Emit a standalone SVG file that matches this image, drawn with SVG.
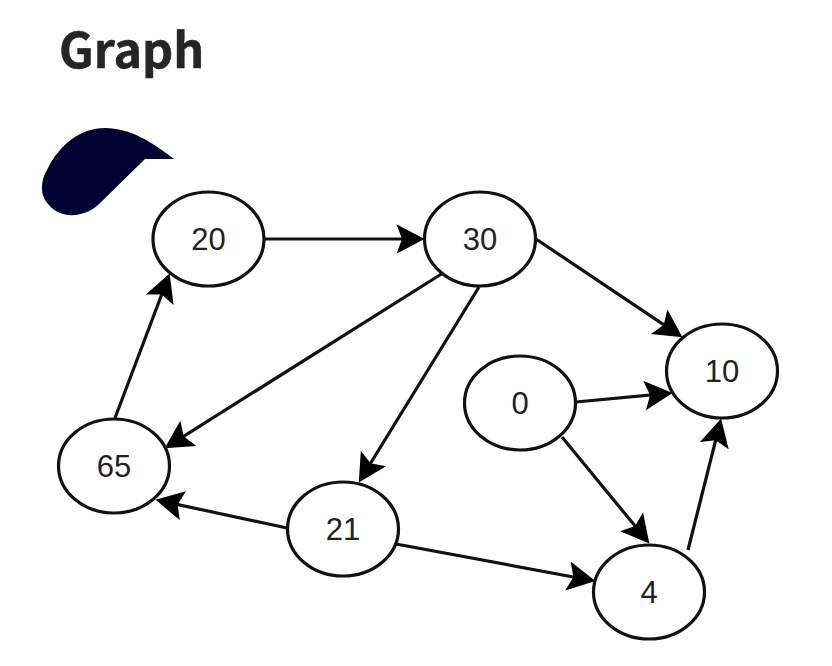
<svg xmlns="http://www.w3.org/2000/svg" width="832" height="666" viewBox="0 0 832 666">
<style>
.t{font-family:"Noto Sans CJK SC","Noto Sans",sans-serif;font-weight:700;font-size:48.500px;fill:#252525;stroke:#252525;stroke-width:.5}
.n ellipse{fill:#fff;stroke:#111;stroke-width:3.200}
.n text{font-family:"Liberation Sans",Arial,sans-serif;font-size:31px;fill:#222;text-anchor:middle}
#connectors line{stroke:#111;stroke-width:3.200;marker-end:url(#ah)}
</style>
<defs><marker id="ah" markerUnits="userSpaceOnUse" markerWidth="31" markerHeight="31" viewBox="-1 -15.500 31 31" refX="20" refY="0" orient="auto"><path d="M-.5,-14.800 L27.500,0 L-.5,14.800 L5,0 Z" fill="#000"/></marker></defs>
<rect width="832" height="666" fill="#fff"/>
<text class="t" x="59" y="68">Graph</text>
<path d="M174,159 L145,159 L98,205 C85,217 61,220 49,205 C39,195 41,180 47,170 C59,145 80,128 105,128 C130,128 152,142 174,159Z" fill="#000033"/>
<g id="connectors">
<line x1="264" y1="239" x2="417" y2="239"/>
<line x1="536" y1="239" x2="676.2" y2="333.1"/>
<line x1="443" y1="273" x2="170.9" y2="444.3"/>
<line x1="479" y1="287" x2="362.7" y2="476"/>
<line x1="576" y1="402" x2="665" y2="393.7"/>
<line x1="562" y1="437" x2="644.6" y2="537.6"/>
<line x1="688" y1="550" x2="719.3" y2="425.8"/>
<line x1="396" y1="544" x2="588.1" y2="579.7"/>
<line x1="287" y1="528" x2="162.9" y2="501.4"/>
<line x1="115" y1="418" x2="167" y2="280.5"/>
</g>
<g id="n20" class="n"><ellipse cx="208.500" cy="239" rx="55.500" ry="47"/><text x="208.500" y="250">20</text></g>
<g id="n30" class="n"><ellipse cx="480" cy="239" rx="55.500" ry="47"/><text x="480" y="250">30</text></g>
<g id="n10" class="n"><ellipse cx="722" cy="371" rx="55.500" ry="47"/><text x="722" y="382">10</text></g>
<g id="n0" class="n"><ellipse cx="520" cy="403" rx="55.500" ry="47"/><text x="520" y="414">0</text></g>
<g id="n65" class="n"><ellipse cx="114" cy="466" rx="55.500" ry="47"/><text x="114" y="477">65</text></g>
<g id="n21" class="n"><ellipse cx="343" cy="529" rx="55.500" ry="47"/><text x="343" y="540">21</text></g>
<g id="n4" class="n"><ellipse cx="649" cy="592" rx="55.500" ry="47"/><text x="649" y="603">4</text></g>
</svg>
